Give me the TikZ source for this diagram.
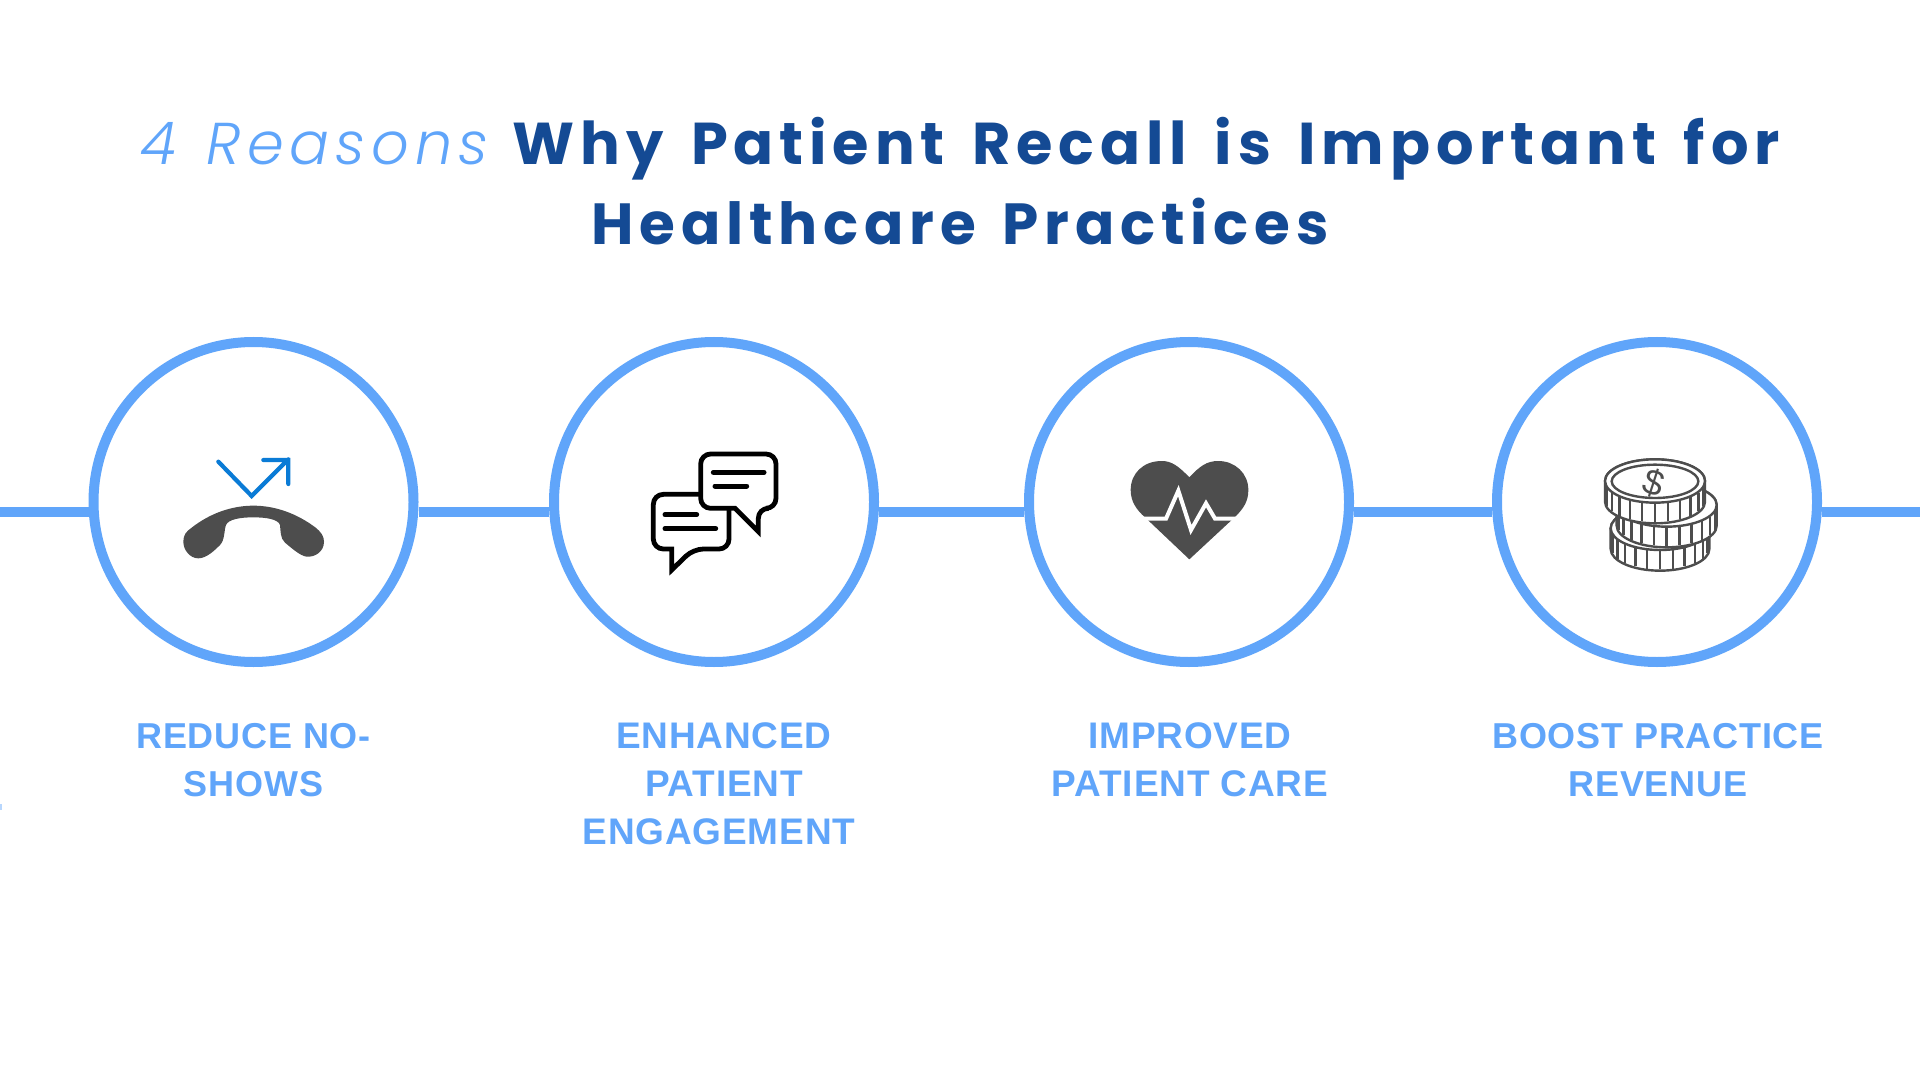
\documentclass[tikz,border=0pt]{standalone}
\usepackage{fontspec}
\setmainfont{Liberation Sans}
\newfontfamily\titlebold[LetterSpace=10,WordSpace=1.5]{Poppins Bold}
\newfontfamily\titlelight[LetterSpace=10,WordSpace=1.3,ItalicFont=* Italic]{Poppins Light}
\newfontfamily\labelfont[LetterSpace=2.2]{Liberation Sans}
\definecolor{ringblue}{HTML}{60A5FA}
\definecolor{titleblue}{HTML}{144A94}
\definecolor{icongrey}{HTML}{4D4D4D}
\definecolor{arrowblue}{HTML}{0A7BD6}
\tikzset{
  ring/.style={circle,draw=ringblue,line width=5pt,fill=white,minimum size=320*0.5pt,inner sep=0pt},
  link/.style={draw=ringblue,line width=5pt},
  lbl/.style={text=ringblue,align=center,font=\labelfont\bfseries\fontsize{18}{24}\selectfont,inner sep=0pt},
  lblwide/.style={lbl,font=\labelfont\bfseries\fontsize{18.5}{24}\selectfont},
  ttl/.style={inner sep=0pt,font=\fontsize{29.5}{34}\selectfont},
  ttlb/.style={inner sep=0pt,font=\fontsize{29}{34}\selectfont},
  zoomed/.style={x=0.16667pt,y=-0.16667pt},
  coinline/.style={draw=icongrey,line width=1.2pt,fill=white}
}
\newcommand{\coindraw}[5]{% cx cy rx ry h
  \path[coinline] (#1-#3,#2) arc[start angle=180,end angle=0,x radius=#3,y radius=-#4]
     -- (#1+#3,#2+#5) arc[start angle=0,end angle=-180,x radius=#3,y radius=-#4] -- cycle;
  \path[coinline] (#1,#2) ellipse[x radius=#3,y radius=#4];
  \foreach \a in {-75,-60,...,75}{
    \draw[icongrey,line width=1.2pt] ({#1+#3*sin(\a)},{#2+#4*cos(\a)+2}) -- ({#1+#3*sin(\a)},{#2+#4*cos(\a)+#5-4});
  }
}
\begin{document}
\begin{tikzpicture}[x=0.5pt,y=-0.5pt]
\useasboundingbox (0,0) rectangle (1920,1080);
\fill[white] (0,0) rectangle (1920,1080);
\coordinate (lineL) at (0,512);
\coordinate (lineR) at (1920,512);
\node[ring] (c1) at (253.5,502) {};
\node[ring] (c2) at (714,502) {};
\node[ring] (c3) at (1189,502) {};
\node[ring] (c4) at (1657,502) {};
\draw[link] (lineL) -- (lineL -| c1.west);
\draw[link] (lineL -| c1.east) -- (lineL -| c2.west);
\draw[link] (lineL -| c2.east) -- (lineL -| c3.west);
\draw[link] (lineL -| c3.east) -- (lineL -| c4.west);
\draw[link] (lineL -| c4.east) -- (lineR);
\fill[ringblue!45] (0,804) rectangle (1.5,810);
% title
\node[ttl] (t1) at (960,149) {{\titlelight\itshape\color{ringblue}4 Reasons}\hspace{12pt}{\titlebold\color{titleblue}Why Patient Recall is Important for}};
\node[ttlb] (t2) at (960,222) {\titlebold\color{titleblue}Healthcare Practices};
% labels
\node[lbl] (l1) at (253.5,760) {REDUCE NO-\\SHOWS};
\node[lblwide] (l2) at (724,784) {ENHANCED\\PATIENT\\ENGAGEMENT\hspace*{5pt}};
\node[lblwide] (l3) at (1190,760) {IMPROVED\\PATIENT CARE};
\node[lbl] (l4) at (1658,760) {BOOST PRACTICE\\REVENUE};
% phone
\begin{scope}[shift={(150,430)},zoomed]
\draw[arrowblue,line width=2.1pt,line cap=round,line join=miter] (205,95) -- (305,198) -- (415,88) (340,90) -- (415,90) -- (415,162);
\fill[icongrey] (100,335) .. controls (100,315) and (108,305) .. (125,293)
  .. controls (180,250) and (245,227) .. (310,227)
  .. controls (375,227) and (440,250) .. (497,293)
  .. controls (512,305) and (522,318) .. (522,335)
  .. controls (522,365) and (495,382) .. (470,380)
  .. controls (450,378) and (420,350) .. (405,338)
  .. controls (390,325) and (392,300) .. (390,285)
  .. controls (385,268) and (350,262) .. (310,262)
  .. controls (270,262) and (235,268) .. (228,285)
  .. controls (222,300) and (225,330) .. (210,345)
  .. controls (195,360) and (170,385) .. (145,385)
  .. controls (120,385) and (100,360) .. (100,335) -- cycle;
\end{scope}
% speech bubbles
\begin{scope}[shift={(630,430)},zoomed,line width=2.4pt,line join=miter]
\draw[black,fill=white,rounded corners=5pt] (70,193) -- (297,193) -- (297,357) -- (190,357) [sharp corners] -- (125,420) -- (125,357) [rounded corners=5pt] -- (70,357) -- cycle;
\draw[black,fill=white,rounded corners=5pt] (212,72) -- (438,72) -- (438,235) -- (385,235) [sharp corners] -- (385,305) -- (315,235) [rounded corners=5pt] -- (212,235) -- cycle;
\draw[black,line width=2.5pt,line cap=round] (250,127) -- (402,127) (255,168) -- (350,168) (105,254) -- (200,254) (105,296) -- (257,296);
\end{scope}
% heart
\begin{scope}[shift={(1110,440)},zoomed]
\fill[icongrey] (238,112) .. controls (205,78) and (185,63) .. (155,63)
  .. controls (100,63) and (62,100) .. (62,150)
  .. controls (62,185) and (80,210) .. (105,232)
  -- (238,358) -- (378,228)
  .. controls (400,205) and (415,185) .. (415,150)
  .. controls (415,100) and (375,63) .. (325,63)
  .. controls (290,63) and (270,78) .. (238,112) -- cycle;
\draw[white,line width=2pt,line join=miter] (95,236) -- (168,236) -- (205,152) -- (243,270) -- (288,190) -- (315,236) -- (385,236);
\end{scope}
% coins
\begin{scope}[shift={(1580,440)},zoomed]
\coindraw{240}{265}{148}{65}{62}
\coindraw{260}{195}{150}{65}{62}
\coindraw{225}{123}{150}{65}{62}
\draw[icongrey,line width=1.2pt] (225,124) ellipse[x radius=130,y radius=50];
\node[text=icongrey,rotate=-18,inner sep=0pt,font=\fontsize{18}{18}\selectfont] (dollar) at (222,128) {\$};
\end{scope}
\end{tikzpicture}
\end{document}
